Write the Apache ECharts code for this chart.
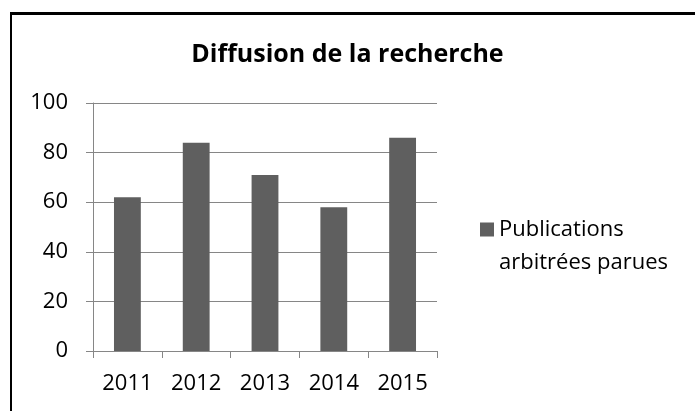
<!DOCTYPE html>
<html><head><meta charset="utf-8">
<script src="https://cdn.jsdelivr.net/npm/echarts@6/dist/echarts.min.js"></script>
<style>
html,body{margin:0;padding:0;background:#fff;}
#frame{position:absolute;left:10px;top:12px;width:720px;height:440px;border-left:2px solid #000;border-top:3px solid #000;box-sizing:border-box;}
#c{position:absolute;left:0;top:0;width:695px;height:411px;}
</style></head>
<body>
<div id="frame"></div>
<div id="c"></div>
<script>
const title = 'Diffusion de la recherche';
const categories = ['2011', '2012', '2013', '2014', '2015'];
const seriesName = 'Publications\narbitrées parues';
const values = [62, 84, 71, 58, 86];
const yTicks = { min: 0, max: 100, interval: 20 };

const FONT = '"Open Sans", sans-serif';
const chart = echarts.init(document.getElementById('c'), null, { renderer: 'canvas' });
chart.setOption({
  animation: false,
  backgroundColor: 'transparent',
  title: {
    text: title, left: 'center', top: 37,
    textStyle: { fontFamily: FONT, fontWeight: 'bold', fontSize: 25, color: '#000' }
  },
  legend: {
    data: [seriesName], orient: 'vertical', left: 480, top: 180, padding: 0,
    icon: 'rect', itemWidth: 14, itemHeight: 14, itemGap: 10,
    formatter: function (name) { return '\n' + name; },
    textStyle: { fontFamily: FONT, fontSize: 22, color: '#000', lineHeight: 33 }
  },
  grid: { left: 93, right: 258, top: 103, bottom: 60, containLabel: false },
  xAxis: {
    type: 'category', data: categories, boundaryGap: true,
    axisLine: { show: true, lineStyle: { color: '#868686', width: 1 } },
    axisTick: { show: true, length: 7, alignWithLabel: false, lineStyle: { color: '#868686' } },
    axisLabel: { fontFamily: FONT, fontSize: 22, color: '#000', margin: 22 }
  },
  yAxis: {
    type: 'value', min: yTicks.min, max: yTicks.max, interval: yTicks.interval,
    axisLine: { show: true, lineStyle: { color: '#868686', width: 1 } },
    axisTick: { show: true, length: 7, lineStyle: { color: '#868686' } },
    splitLine: { show: true, lineStyle: { color: '#868686', width: 1 } },
    axisLabel: { fontFamily: FONT, fontSize: 22, color: '#000', margin: 25 }
  },
  series: [{
    name: seriesName, type: 'bar', data: values, barWidth: '39%',
    itemStyle: { color: '#5f5f5f' }
  }]
});
</script>
</body></html>
